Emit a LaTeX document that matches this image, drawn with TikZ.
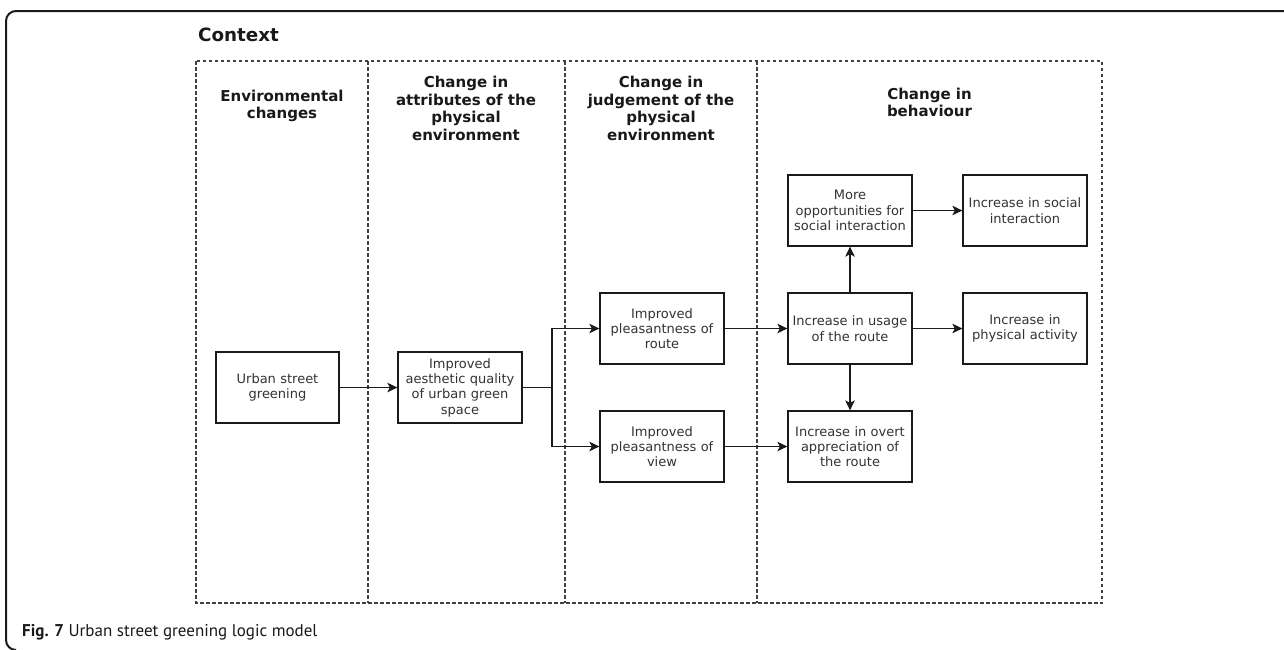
\documentclass[tikz,border=0pt]{standalone}
\usepackage{fontspec}
\setmainfont{DejaVu Sans}
\newfontfamily\capfont{PT Sans}
\usetikzlibrary{arrows.meta}
\definecolor{boxtext}{HTML}{333333}
\definecolor{framec}{HTML}{1A1A1A}
\tikzset{
  every picture/.style={x=1pt,y=-1pt},
  box/.style={draw=framec, line width=1.3pt, minimum width=124pt, minimum height=71pt,
    text width=120pt, align=center, inner sep=0pt, text=boxtext,
    font=\fontsize{13}{15.3}\selectfont},
  hdr/.style={align=center, inner sep=0pt, text=black!90,
    font=\bfseries\fontsize{15}{17.7}\selectfont},
  arr/.style={draw=framec, line width=1.3pt, -{Stealth[length=10pt,width=9.5pt,inset=2.5pt]}},
  ln/.style={draw=framec, line width=1.3pt},
  dsh/.style={draw=black!75, line width=1.2pt, dash pattern=on 3.5pt off 2.5pt},
}
\begin{document}
\begin{tikzpicture}
\fill[white] (0,0) rectangle (1284,649);
\useasboundingbox (0,0) rectangle (1284,649);
% outer frame
\draw[line width=2pt, framec, rounded corners=10pt] (1284,11) -- (6,11) -- (6,650) -- (16,650);
% context label
\node[anchor=west, inner sep=0pt, font=\bfseries\fontsize{18.3}{20}\selectfont, text=black!90] (ctx) at (198,35) {Context};
% dashed grid
\draw[dsh] (196,61) rectangle (1102,603);
\draw[dsh] (368,61) -- (368,603);
\draw[dsh] (565,61) -- (565,603);
\draw[dsh] (757,61) -- (757,603);
% headers
\node[hdr] (h1) at (282,106) {Environmental\\changes};
\node[hdr] (h2) at (466,108.5) {Change in\\attributes of the\\physical\\environment};
\node[hdr] (h3) at (661,108.5) {Change in\\judgement of the\\physical\\environment};
\node[hdr] (h4) at (929.5,102.5) {Change in\\behaviour};
% boxes
\node[box, minimum width=123pt] (urban) at (277.5,387.5) {Urban street\\greening};
\node[box] (aesth) at (460,387.5) {Improved\\aesthetic quality\\of urban green\\space};
\node[box] (route) at (662,328.5) {Improved\\pleasantness of\\route};
\node[box] (view) at (662,446.5) {Improved\\pleasantness of\\view};
\node[box] (usage) at (850,328.5) {Increase in usage\\of the route};
\node[box] (overt) at (850,446.5) {Increase in overt\\appreciation of\\the route};
\node[box] (opps) at (850,210.5) {More\\opportunities for\\social interaction};
\node[box] (social) at (1025,210.5) {Increase in social\\interaction};
\node[box] (phys) at (1025,328.5) {Increase in\\physical activity};
% connectors
\coordinate (j) at (552,387.5);
\draw[arr] (urban) -- (aesth);
\draw[ln] (aesth.east) -- (j);
\draw[arr] (j) |- (route.west);
\draw[arr] (j) |- (view.west);
\draw[arr] (route) -- (usage);
\draw[arr] (view) -- (overt);
\draw[arr] (usage) -- (opps);
\draw[arr] (usage) -- (overt);
\draw[arr] (usage) -- (phys);
\draw[arr] (opps) -- (social);
% caption
\node[anchor=base west, inner sep=0pt, font=\capfont\fontsize{17}{19}\selectfont, text=black!90] (cap) at (22,636) {\textbf{Fig. 7} Urban street greening logic model};
\end{tikzpicture}
\end{document}
